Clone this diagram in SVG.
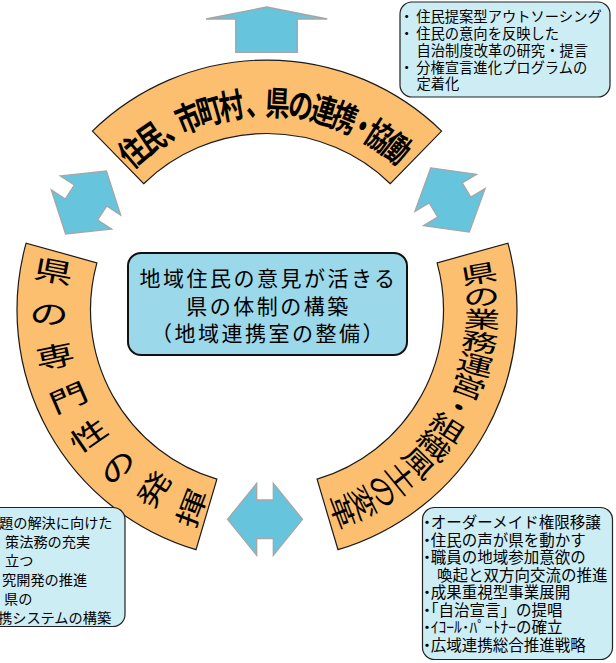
<svg xmlns="http://www.w3.org/2000/svg" width="616" height="663" viewBox="0 0 616 663">
<defs>
<style>
.band{fill:#FCBF6F;stroke:#1a1a1a;stroke-width:1.2}
.arrow{fill:#66C4DC;stroke:#A6A6A6;stroke-width:1.3}
.center{fill:#9BD8EA;stroke:#111;stroke-width:2}
.note{fill:#CDEDF5;stroke:#222;stroke-width:1.2}
text{font-family:"Noto Sans CJK JP","Noto Sans CJK SC",sans-serif;fill:#000;dominant-baseline:central}
.ta{font-size:34px;font-weight:700;text-anchor:middle}
.tr{font-size:23px;text-anchor:middle}
.tl{font-size:27px;text-anchor:middle}
.tc{font-size:21px;letter-spacing:2.5px;text-anchor:middle}
.n1{font-size:14.3px}
.n2{font-size:15.5px}
.n3{font-size:14.2px}
.dot{font-feature-settings:"palt"}
</style>
<polygon id="dbl" points="-37.5,0 -8.3,-36 -8.3,-19.3 8.3,-19.3 8.3,-36 37.5,0 8.3,36 8.3,19.3 -8.3,19.3 -8.3,36"/>
</defs>
<rect width="616" height="663" fill="#fff"/>

<g id="connectors">
<polygon class="arrow" points="266.7,7 327.3,19 297.3,19 297.3,52.3 235.7,52.3 235.7,19 206,19"/>
<use href="#dbl" class="arrow" transform="translate(86,202.5) rotate(-57)"/>
<use href="#dbl" class="arrow" transform="translate(450,200) rotate(59)"/>
<use href="#dbl" class="arrow" transform="translate(265,519.3)"/>
</g>

<g id="node-top">
<path class="band" d="M92.4,131.1 A250,250 0 0 1 441.6,131.1 L390.3,183.7 A176.5,176.5 0 0 0 143.7,183.7 Z"/>
<text class="ta" transform="translate(131.8,150.6) rotate(-40.3) scale(0.72,1)">住</text>
<text class="ta" transform="translate(150.1,136.7) rotate(-34) scale(0.72,1)">民</text>
<text class="ta" transform="translate(171.8,123.9) rotate(-27.1) scale(0.72,1)">、</text>
<text class="ta" transform="translate(187.7,116.6) rotate(-22.3) scale(0.72,1)">市</text>
<text class="ta" transform="translate(209,109.2) rotate(-16.1) scale(0.72,1)">町</text>
<text class="ta" transform="translate(231.1,104.1) rotate(-9.9) scale(0.72,1)">村</text>
<text class="ta" transform="translate(257.9,101.2) rotate(-2.5) scale(0.72,1)">、</text>
<text class="ta" transform="translate(277.6,101.3) rotate(2.9) scale(0.72,1)">県</text>
<text class="ta" transform="translate(301.1,103.8) rotate(9.4) scale(0.72,1)">の</text>
<text class="ta" transform="translate(323.9,108.9) rotate(15.8) scale(0.72,1)">連</text>
<text class="ta" transform="translate(345.3,116.2) rotate(22) scale(0.72,1)">携</text>
<text class="ta" transform="translate(363.5,124.6) rotate(27.5) scale(0.72,1)">・</text>
<text class="ta" transform="translate(379.9,134.1) rotate(32.7) scale(0.72,1)">協</text>
<text class="ta" transform="translate(397.7,146.9) rotate(38.7) scale(0.72,1)">働</text>
</g>

<g id="node-right">
<path class="band" d="M507.9,243.2 A250,250 0 0 1 338,549.7 L317.1,479.2 A176.5,176.5 0 0 0 437.1,262.8 Z"/>
<text class="tr" transform="translate(478.7,272.3) rotate(-10.1) scale(1.6,1)">県</text>
<text class="tr" transform="translate(481.5,295) rotate(-4) scale(1.6,1)">の</text>
<text class="tr" transform="translate(481.9,317.9) rotate(2.1) scale(1.6,1)">業</text>
<text class="tr" transform="translate(479.8,340.7) rotate(8.2) scale(1.6,1)">務</text>
<text class="tr" transform="translate(475.3,363.1) rotate(14.3) scale(1.6,1)">運</text>
<text class="tr" transform="translate(468.5,384.9) rotate(20.4) scale(1.6,1)">営</text>
<text class="tr" transform="translate(459.4,405.9) rotate(26.5) scale(1.6,1)">・</text>
<text class="tr" transform="translate(448.1,425.8) rotate(32.6) scale(1.6,1)">組</text>
<text class="tr" transform="translate(434.8,444.4) rotate(38.7) scale(1.6,1)">織</text>
<text class="tr" transform="translate(419.6,461.5) rotate(44.8) scale(1.6,1)">風</text>
<text class="tr" transform="translate(402.6,476.9) rotate(50.9) scale(1.6,1)">土</text>
<text class="tr" transform="translate(384.1,490.3) rotate(57) scale(1.6,1)">の</text>
<text class="tr" transform="translate(364.3,501.7) rotate(63.1) scale(1.6,1)">変</text>
<text class="tr" transform="translate(343.3,511) rotate(69.2) scale(1.6,1)">革</text>
</g>

<g id="node-left">
<path class="band" d="M196,549.7 A250,250 0 0 1 26.1,243.2 L96.9,262.8 A176.5,176.5 0 0 0 216.9,479.2 Z"/>
<text class="tl" transform="translate(53.8,269.7) rotate(10.7) scale(1.45,1)">県</text>
<text class="tl" transform="translate(49,312.5) rotate(-0.65) scale(1.45,1)">の</text>
<text class="tl" transform="translate(54.7,355.1) rotate(-12) scale(1.45,1)">専</text>
<text class="tl" transform="translate(67.8,396) rotate(-23.35) scale(1.45,1)">門</text>
<text class="tl" transform="translate(87.8,434.1) rotate(-34.7) scale(1.45,1)">性</text>
<text class="tl" transform="translate(116.4,466.2) rotate(-46.05) scale(1.45,1)">の</text>
<text class="tl" transform="translate(152.8,488.6) rotate(-57.4) scale(1.45,1)">発</text>
<text class="tl" transform="translate(190.2,507.6) rotate(-68.75) scale(1.45,1)">揮</text>
</g>

<g id="node-center">
<rect class="center" x="128" y="253" width="279" height="102" rx="13"/>
<text class="tc" x="268.5" y="277">地域住民の意見が活きる</text>
<text class="tc" x="268.5" y="304.5">県の体制の構築</text>
<text class="tc" x="268.5" y="331.5">（地域連携室の整備）</text>
</g>

<g id="note-top-right">
<rect class="note" x="400" y="2" width="210" height="95" rx="12"/>
<text class="n1" x="403" y="15"><tspan class="dot">・</tspan><tspan dx="6">住民提案型アウトソーシング</tspan></text>
<text class="n1" x="403" y="32"><tspan class="dot">・</tspan><tspan dx="6">住民の意向を反映した</tspan></text>
<text class="n1" x="416.5" y="49">自治制度改革の研究・提言</text>
<text class="n1" x="403" y="65.5"><tspan class="dot">・</tspan><tspan dx="6">分権宣言進化プログラムの</tspan></text>
<text class="n1" x="416.5" y="82">定着化</text>
</g>

<g id="note-bottom-left">
<rect class="note" x="-20" y="507.5" width="145" height="119" rx="12"/>
<text class="n3" x="-1" y="522">題の解決に向けた</text>
<text class="n3" x="5" y="541">策法務の充実</text>
<text class="n3" x="5" y="560">立つ</text>
<text class="n3" x="2" y="579">究開発の推進</text>
<text class="n3" x="4" y="598">県の</text>
<text class="n3" x="-2" y="617">携システムの構築</text>
</g>

<g id="note-bottom-right">
<rect class="note" x="422.5" y="507.5" width="190" height="152" rx="12"/>
<text class="n2" x="423" y="521"><tspan class="dot">・</tspan>オーダーメイド権限移譲</text>
<text class="n2" x="423" y="538.5"><tspan class="dot">・</tspan>住民の声が県を動かす</text>
<text class="n2" x="423" y="556"><tspan class="dot">・</tspan>職員の地域参加意欲の</text>
<text class="n2" x="437" y="573.5">喚起と双方向交流の推進</text>
<text class="n2" x="423" y="591"><tspan class="dot">・</tspan>成果重視型事業展開</text>
<text class="n2" x="423" y="608.5"><tspan class="dot">・</tspan>「自治宣言」の提唱</text>
<text class="n2" x="423" y="626"><tspan class="dot">・</tspan>ｲｺｰﾙ･ﾊﾟｰﾄﾅｰの確立</text>
<text class="n2" x="423" y="643.5"><tspan class="dot">・</tspan>広域連携総合推進戦略</text>
</g>
</svg>
